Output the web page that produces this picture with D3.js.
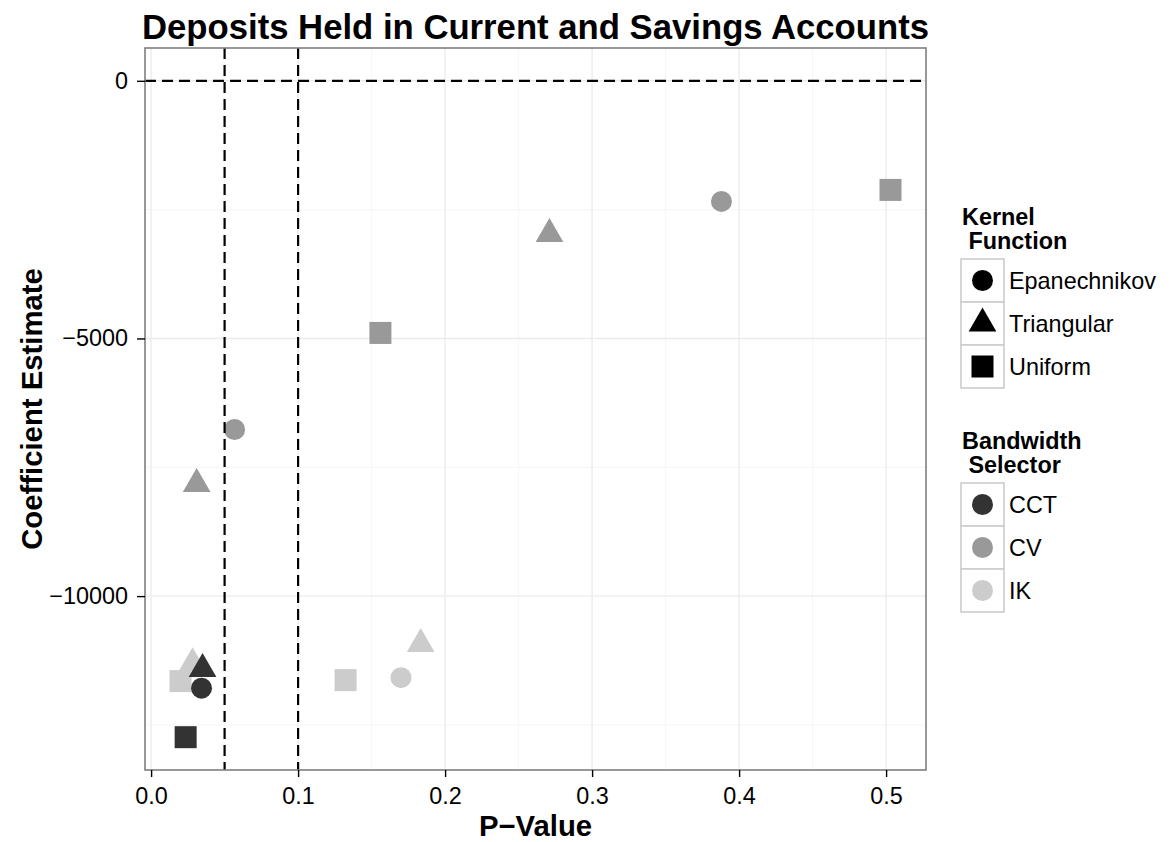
<!DOCTYPE html>
<html>
<head>
<meta charset="utf-8">
<script src="https://cdn.jsdelivr.net/npm/d3@7"></script>
<style>
  body { margin: 0; background: #fff; }
  svg { display: block; font-family: "Liberation Sans", Arial, Helvetica, sans-serif; }
</style>
</head>
<body>
<svg id="chart" width="1171" height="842"></svg>
<script>
// Regression-discontinuity estimates: kernel, bandwidth selector, p-value, coefficient
const kernel      = ["Uniform", "Epanechnikov", "Triangular", "Uniform", "Epanechnikov", "Triangular",
                     "Triangular", "Epanechnikov", "Uniform", "Triangular", "Uniform",
                     "Triangular", "Epanechnikov", "Uniform"];
const bandwidth   = ["CV", "CV", "CV", "CV", "CV", "CV",
                     "IK", "IK", "IK", "IK", "IK",
                     "CCT", "CCT", "CCT"];
const pValue      = [0.503, 0.388, 0.271, 0.156, 0.0568, 0.031,
                     0.1834, 0.170, 0.1323, 0.0282, 0.020,
                     0.035, 0.0343, 0.0235];
const coefficient = [-2117, -2340, -2971, -4893, -6767, -7825,
                     -10932, -11583, -11631, -11301, -11650,
                     -11417, -11786, -12738];

const kernelLevels    = ["Epanechnikov", "Triangular", "Uniform"];
const bandwidthLevels = ["CCT", "CV", "IK"];
const xTicks = [0, 0.1, 0.2, 0.3, 0.4, 0.5];
const yTicks = [0, -5000, -10000];
const xMinor = [0.05, 0.15, 0.25, 0.35, 0.45];
const yMinor = [-2500, -7500, -12500];
const pCutoffs = [0.05, 0.1];
const zeroLine = [0];

const points = kernel.map((k, i) => ({ kernel: k, bandwidth: bandwidth[i], p: pValue[i], coef: coefficient[i] }));

const svg = d3.select("#chart");
const panel = { left: 145, right: 926, top: 48, bottom: 770 };

// 5% padding on each side of the trained range (points + reference lines)
function padded(values) {
  const [lo, hi] = d3.extent(values);
  const pad = (hi - lo) * 0.05;
  return [lo - pad, hi + pad];
}
const x = d3.scaleLinear().domain(padded(pValue.concat(pCutoffs))).range([panel.left, panel.right]);
const y = d3.scaleLinear().domain(padded(coefficient.concat(zeroLine))).range([panel.bottom, panel.top]);

const colour = d3.scaleOrdinal().domain(bandwidthLevels).range(["#333333", "#999999", "#cccccc"]);

// marker geometry: circle r, square side, triangle (R style: apex above centre)
function drawShape(sel, shape, cx, cy, fill) {
  if (shape === "Epanechnikov") {
    sel.append("circle").attr("cx", cx).attr("cy", cy).attr("r", 10.5).attr("fill", fill);
  } else if (shape === "Uniform") {
    sel.append("rect").attr("x", cx - 11).attr("y", cy - 11).attr("width", 22).attr("height", 22).attr("fill", fill);
  } else {
    const h = 16, w = 0.866 * h;
    sel.append("path")
      .attr("d", `M${cx},${cy - h}L${cx + w},${cy + h / 2}L${cx - w},${cy + h / 2}Z`)
      .attr("fill", fill);
  }
}

// panel background and grid
svg.append("rect").attr("x", panel.left).attr("y", panel.top)
  .attr("width", panel.right - panel.left).attr("height", panel.bottom - panel.top).attr("fill", "#fff");

const grid = svg.append("g");
grid.selectAll(".xminor").data(xMinor).join("line")
  .attr("x1", d => x(d)).attr("x2", d => x(d)).attr("y1", panel.top).attr("y2", panel.bottom)
  .attr("stroke", "#f7f7f7").attr("stroke-width", 1.2);
grid.selectAll(".yminor").data(yMinor).join("line")
  .attr("y1", d => y(d)).attr("y2", d => y(d)).attr("x1", panel.left).attr("x2", panel.right)
  .attr("stroke", "#f7f7f7").attr("stroke-width", 1.2);
grid.selectAll(".xmajor").data(xTicks).join("line")
  .attr("x1", d => x(d)).attr("x2", d => x(d)).attr("y1", panel.top).attr("y2", panel.bottom)
  .attr("stroke", "#ececec").attr("stroke-width", 1.4);
grid.selectAll(".ymajor").data(yTicks).join("line")
  .attr("y1", d => y(d)).attr("y2", d => y(d)).attr("x1", panel.left).attr("x2", panel.right)
  .attr("stroke", "#ececec").attr("stroke-width", 1.4);

// points
const pts = svg.append("g");
points.forEach(d => drawShape(pts, d.kernel, x(d.p), y(d.coef), colour(d.bandwidth)));

// reference lines
const refs = svg.append("g").attr("stroke", "#000").attr("stroke-width", 2.2).attr("stroke-dasharray", "11,6");
refs.selectAll(".v").data(pCutoffs).join("line")
  .attr("x1", d => x(d)).attr("x2", d => x(d)).attr("y1", panel.top).attr("y2", panel.bottom);
refs.selectAll(".h").data(zeroLine).join("line")
  .attr("y1", d => y(d)).attr("y2", d => y(d)).attr("x1", panel.left).attr("x2", panel.right);

// panel border
svg.append("rect").attr("x", panel.left).attr("y", panel.top)
  .attr("width", panel.right - panel.left).attr("height", panel.bottom - panel.top)
  .attr("fill", "none").attr("stroke", "#7f7f7f").attr("stroke-width", 1.6);

// axes
const fmtX = d3.format(".1f");
const xAxis = svg.append("g").attr("transform", `translate(0,${panel.bottom})`)
  .call(d3.axisBottom(x).tickValues(xTicks).tickFormat(fmtX).tickSize(7).tickPadding(10));
const yAxis = svg.append("g").attr("transform", `translate(${panel.left},0)`)
  .call(d3.axisLeft(y).tickValues(yTicks).tickFormat(d => d < 0 ? "\u2212" + Math.abs(d) : String(d)).tickSize(8).tickPadding(9));
[xAxis, yAxis].forEach(a => {
  a.select(".domain").remove();
  a.selectAll(".tick line").attr("stroke", "#000").attr("stroke-width", 1.4);
  a.selectAll(".tick text").attr("fill", "#000").style("font-size", "23.4px")
    .style("font-family", "'Liberation Sans', Arial, sans-serif");
});

// titles
svg.append("text").attr("x", (panel.left + panel.right) / 2).attr("y", 39)
  .attr("text-anchor", "middle").style("font-size", "34.7px").style("font-weight", "bold")
  .text("Deposits Held in Current and Savings Accounts");
svg.append("text").attr("x", (panel.left + panel.right) / 2).attr("y", 836)
  .attr("text-anchor", "middle").style("font-size", "29.3px").style("font-weight", "bold")
  .text("P\u2212Value");
svg.append("text").attr("transform", `translate(42,${(panel.top + panel.bottom) / 2}) rotate(-90)`)
  .attr("text-anchor", "middle").style("font-size", "29.3px").style("font-weight", "bold")
  .text("Coefficient Estimate");

// legends
function legend(top, titleLines, levels, shapeFor, fillFor) {
  const g = svg.append("g");
  titleLines.forEach((t, i) => {
    g.append("text").attr("x", 962).attr("y", top + 12 + i * 24)
      .style("font-size", "23.4px").style("font-weight", "bold")
      .attr("xml:space", "preserve").style("white-space", "pre").text(t);
  });
  const keyTop = top + 46, key = 43;
  levels.forEach((lv, i) => {
    const ky = keyTop + i * key;
    g.append("rect").attr("x", 961).attr("y", ky).attr("width", key).attr("height", key)
      .attr("fill", "#fff").attr("stroke", "#cccccc").attr("stroke-width", 1.6);
    drawShape(g, shapeFor(lv), 961 + key / 2, ky + key / 2, fillFor(lv));
    g.append("text").attr("x", 1009).attr("y", ky + key / 2).attr("dy", "0.36em")
      .style("font-size", "23.4px").text(lv);
  });
}
legend(213, ["Kernel", " Function"], kernelLevels, lv => lv, () => "#000");
legend(437, ["Bandwidth", " Selector"], bandwidthLevels, () => "Epanechnikov", lv => colour(lv));
</script>
</body>
</html>
